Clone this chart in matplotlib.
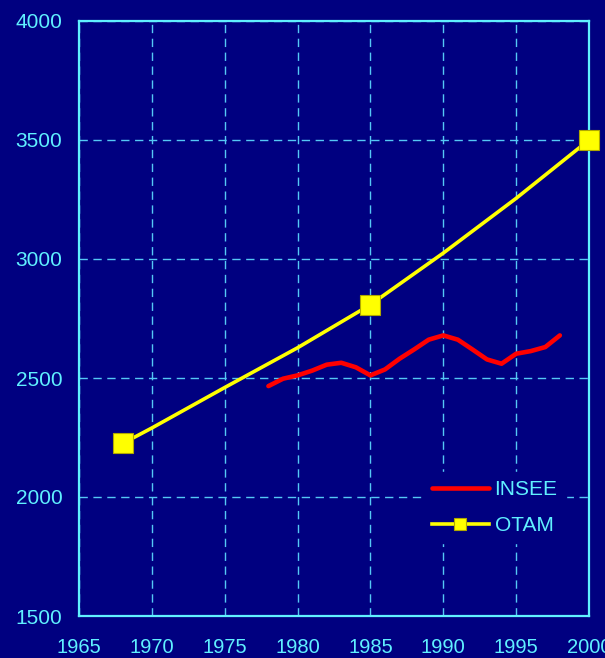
import matplotlib
matplotlib.use("Agg")
import matplotlib.pyplot as plt

# Data
insee_years = list(range(1978, 1999))
insee_values = [2466, 2497, 2511, 2531, 2556, 2564, 2545, 2511, 2536, 2581,
                2620, 2661, 2679, 2661, 2620, 2578, 2560, 2602, 2613, 2630, 2679]
otam_years = [1968, 1970, 1975, 1980, 1985, 1990, 1995, 2000]
otam_values = [2225, 2290, 2460, 2627, 2808, 3025, 3255, 3500]
otam_marker_idx = [0, 4, 7]
x_ticks = [1965, 1970, 1975, 1980, 1985, 1990, 1995, 2000]
y_ticks = [1500, 2000, 2500, 3000, 3500, 4000]

NAVY = "#000080"
CYAN = "#60F0FF"
GRID = "#55C8F5"

plt.rcParams['font.family'] = ['Liberation Sans', 'DejaVu Sans']

fig = plt.figure(figsize=(6.05, 6.58), dpi=100, facecolor=NAVY)
ax = fig.add_axes([79/605, 1-616/658, (589-79)/605, (616-21)/658])
ax.set_facecolor(NAVY)

ax.plot(insee_years, insee_values, color="#FF0000", lw=3.3, label="INSEE",
        solid_capstyle="round", zorder=3)
ax.plot(otam_years, otam_values, color="#FFFF00", lw=2.6, marker="s",
        markersize=14, markerfacecolor="#FFFF00", markeredgecolor="#B0A800",
        markeredgewidth=0.8, markevery=otam_marker_idx, label="OTAM", zorder=4,
        clip_on=False)

ax.set_xlim(1965, 2000)
ax.set_ylim(1500, 4000)
ax.set_xticks(x_ticks)
ax.set_yticks(y_ticks)
ax.tick_params(axis='both', length=0, colors=CYAN)
ax.tick_params(axis='y', pad=12, labelsize=15)
ax.tick_params(axis='x', pad=16, labelsize=14.5)

ax.grid(True, color=GRID, lw=1.0, linestyle=(0, (6, 4)))
ax.set_axisbelow(True)
for s in ax.spines.values():
    s.set_color(CYAN)
    s.set_linewidth(1.6)

leg = ax.legend(loc='upper left', bbox_to_anchor=(424/605, 1-472/658),
                bbox_transform=fig.transFigure, frameon=True, fontsize=15,
                handlelength=2.7, handletextpad=0.29, labelspacing=0.8,
                markerscale=0.6, borderpad=0.4, borderaxespad=0)
leg.get_frame().set_facecolor(NAVY)
leg.get_frame().set_edgecolor(NAVY)
leg.get_frame().set_alpha(1)
for t in leg.get_texts():
    t.set_color(CYAN)

fig.savefig("out.png", dpi=100, facecolor=NAVY)
